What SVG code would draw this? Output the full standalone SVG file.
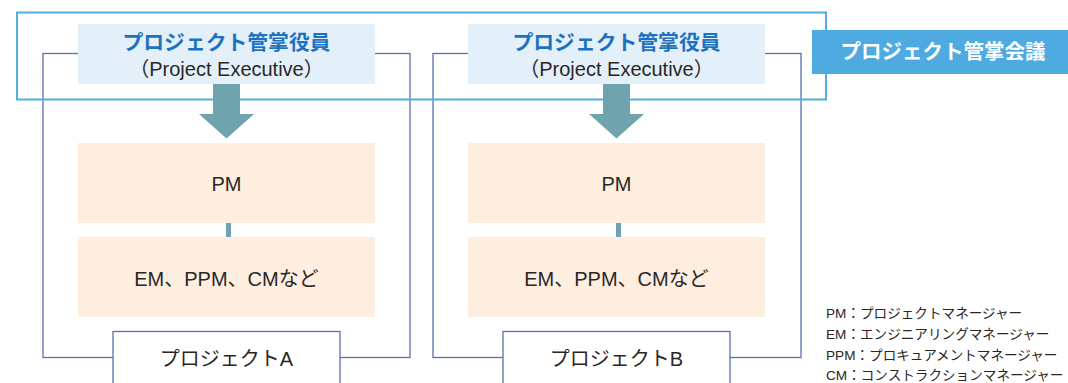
<svg xmlns="http://www.w3.org/2000/svg" width="1068" height="383" viewBox="0 0 1068 383">
<style>
text{font-family:"Liberation Sans","Noto Sans CJK JP",sans-serif;fill:#2b2626}
.jp{font-family:"Noto Sans CJK JP","Liberation Sans",sans-serif}
.frame{fill:none;stroke:#5b70b0;stroke-width:1.3}
.exec{fill:#e3f0fa}
.role{fill:#fdeee0}
.title{font-size:20.8px;font-weight:bold;fill:#1d72c0}
.sub{font-size:20px}
.mid{font-size:20px}
.proj{fill:#fff;stroke:#5b70b0;stroke-width:1.3}
.arrow{fill:#6fa3ad}
.legend{font-size:13.6px}
</style>
<g id="frameA"><rect class="frame" x="43" y="53.5" width="367" height="304"/></g>
<g id="frameB"><rect class="frame" x="433" y="53.5" width="368" height="304"/></g>
<g id="execA">
<rect class="exec" x="78" y="24" width="297" height="60"/>
<text class="title jp" x="226.5" y="50" text-anchor="middle">プロジェクト管掌役員</text>
<text class="sub" x="226.5" y="76" text-anchor="middle">（Project Executive）</text>
</g>
<g id="execB">
<rect class="exec" x="468" y="24" width="297" height="60"/>
<text class="title jp" x="616.5" y="50" text-anchor="middle">プロジェクト管掌役員</text>
<text class="sub" x="616.5" y="76" text-anchor="middle">（Project Executive）</text>
</g>
<g id="council">
<rect x="17" y="12.5" width="809" height="87" fill="none" stroke="#52ade3" stroke-width="2"/>
<rect x="812" y="30" width="256" height="44" fill="#4eaae0"/>
<text class="jp" x="943" y="59" text-anchor="middle" font-size="20.5" font-weight="bold" style="fill:#fff">プロジェクト管掌会議</text>
</g>
<g id="connectors">
<path class="arrow" d="M213 84H240V114H254L226.5 138.5L199 114H213Z"/>
<path class="arrow" d="M603 84H630V114H644L616.5 138.5L589 114H603Z"/>
<rect class="arrow" x="226" y="222" width="5" height="15"/>
<rect class="arrow" x="616" y="222" width="5" height="15"/>
</g>
<g id="pmA"><rect class="role" x="78" y="143" width="297" height="80"/><text class="mid" x="226.5" y="191" text-anchor="middle">PM</text></g>
<g id="othersA"><rect class="role" x="78" y="237" width="297" height="80"/><text class="mid" x="226.5" y="285.5" text-anchor="middle">EM、PPM、CMなど</text></g>
<g id="pmB"><rect class="role" x="468" y="143" width="297" height="80"/><text class="mid" x="616.5" y="191" text-anchor="middle">PM</text></g>
<g id="othersB"><rect class="role" x="468" y="237" width="297" height="80"/><text class="mid" x="616.5" y="285.5" text-anchor="middle">EM、PPM、CMなど</text></g>
<g id="projA"><rect class="proj" x="113" y="331.5" width="227" height="60"/><text class="mid" x="226.5" y="366" text-anchor="middle">プロジェクトA</text></g>
<g id="projB"><rect class="proj" x="503" y="331.5" width="227" height="60"/><text class="mid" x="616.5" y="366" text-anchor="middle">プロジェクトB</text></g>
<g id="legend" class="legend">
<text class="legend" x="826" y="318">PM：プロジェクトマネージャー</text>
<text class="legend" x="826" y="339">EM：エンジニアリングマネージャー</text>
<text class="legend" x="826" y="360">PPM：プロキュアメントマネージャー</text>
<text class="legend" x="826" y="380">CM：コンストラクションマネージャー</text>
</g>
</svg>
